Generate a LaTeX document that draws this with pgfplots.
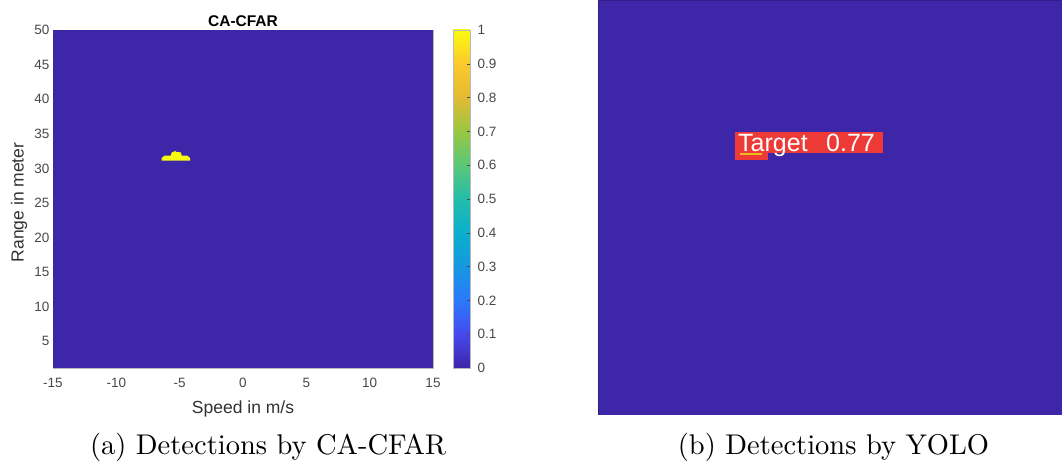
\documentclass[border=0pt]{standalone}
\usepackage{pgfplots}
\pgfplotsset{compat=1.18}
\usepackage{fontspec}
\newfontfamily\arial{Liberation Sans}
\definecolor{pblue}{RGB}{62,38,168}
\definecolor{pyellow}{RGB}{249,251,14}
\definecolor{yred}{RGB}{238,58,54}
\definecolor{ygold}{RGB}{235,190,30}
\definecolor{tickgray}{RGB}{72,72,72}
\definecolor{labgray}{RGB}{50,50,50}
\pgfdeclareverticalshading{parulash}{100bp}{
 rgb(0bp)=(0.243,0.149,0.659);
 rgb(25bp)=(0.243,0.149,0.659);
 rgb(30bp)=(0.278,0.286,0.933);
 rgb(35bp)=(0.176,0.475,0.980);
 rgb(40bp)=(0.078,0.596,0.886);
 rgb(45bp)=(0.039,0.686,0.804);
 rgb(50bp)=(0.137,0.741,0.667);
 rgb(55bp)=(0.353,0.780,0.471);
 rgb(60bp)=(0.600,0.780,0.260);
 rgb(65bp)=(0.890,0.730,0.200);
 rgb(70bp)=(0.988,0.790,0.176);
 rgb(75bp)=(0.976,0.984,0.055);
 rgb(100bp)=(0.976,0.984,0.055)}
\begin{document}
\begin{tikzpicture}[x=1pt,y=1pt]
\pgfkeys{/pgf/number format/assume math mode=true}
\path[use as bounding box] (0,0) rectangle (1062,465);
\begin{axis}[
  at={(53pt,97pt)}, anchor=south west,
  scale only axis, width=380pt, height=338pt,
  xmin=-15, xmax=15, ymin=1.15, ymax=50,
  xtick={-15,-10,-5,0,5,10,15}, ytick={5,10,15,20,25,30,35,40,45,50},
  major tick length=0pt,
  axis line style={gray!55, line width=0.6pt},
  tick label style={font=\fontsize{13.5}{14}\arial, text=tickgray},
  xticklabel style={yshift=-7pt},
  xlabel={Speed in m/s}, ylabel={Range in meter},
  label style={font=\fontsize{17.5}{20}\arial, text=labgray},
  xlabel style={at={(axis description cs:0.5,-0.12)}, anchor=center},
  ylabel style={at={(axis description cs:-0.0895,0.49)}, anchor=center},
  title={CA-CFAR},
  title style={at={(axis description cs:0.5,1)}, anchor=base, yshift=-3pt, inner sep=0pt, font=\bfseries\fontsize{15.5}{17}\arial, text=black},
]
\addplot[fill=pblue, draw=none] coordinates {(-15,1.15) (15,1.15) (15,50) (-15,50)} -- cycle;
\addplot[fill=pyellow, draw=none] coordinates {
 (-6.42,31.11) (-4.18,31.11) (-4.18,31.5) (-4.4,31.84) (-4.84,31.84) (-4.9,32.3)
 (-5.3,32.4) (-5.37,32.56) (-5.45,32.4) (-5.63,32.3) (-5.7,31.84) (-6.2,31.84) (-6.42,31.5)} -- cycle;
\end{axis}
% colour bar
\begin{axis}[
  at={(453pt,97pt)}, anchor=south west,
  scale only axis, width=17pt, height=338pt,
  xmin=0, xmax=1, ymin=0, ymax=1,
  xtick=\empty,
  ytick={0,0.1,0.2,0.3,0.4,0.5,0.6,0.7,0.8,0.9,1},
  yticklabels={0,0.1,0.2,0.3,0.4,0.5,0.6,0.7,0.8,0.9,1},
  yticklabel pos=right, ytick pos=right,
  tick align=inside, major tick length=3pt,
  tick style={tickgray, line width=0.5pt},
  axis line style={gray!55, line width=0.6pt},
  axis on top,
  yticklabel style={font=\fontsize{13.5}{14}\arial, text=tickgray, xshift=4pt},
]
\addplot[shading=parulash, draw=none] coordinates {(0,0) (1,0) (1,1) (0,1)} -- cycle;
\end{axis}
\begin{axis}[
  at={(598pt,50pt)}, anchor=south west,
  scale only axis, width=464pt, height=415pt,
  xmin=0, xmax=464, ymin=0, ymax=415, hide axis,
]
\addplot[fill=pblue, draw=pblue!80!black, line width=0.8pt] coordinates {(0,0) (464,0) (464,415) (0,415)} -- cycle;
\addplot[fill=yred, draw=none] coordinates {(137,262) (285,262) (285,283) (137,283)} -- cycle;
\addplot[fill=yred, draw=none] coordinates {(137,255) (170,255) (170,263) (137,263)} -- cycle;
\addplot[fill=ygold, draw=none] coordinates {(142,259.5) (164,259.5) (164,262) (142,262)} -- cycle;
\node[anchor=base west, inner sep=0pt, text=white, font=\fontsize{25}{27}\arial] at (axis cs:140,263.5) {Target};
\node[anchor=base west, inner sep=0pt, text=white, font=\fontsize{25}{27}\arial] at (axis cs:228,263.5) {0.77};
\end{axis}
\node[anchor=base] at (268,10) {\scalebox{2.85}{(a) Detections by CA-CFAR}};
\node[anchor=base] at (833.5,10) {\scalebox{2.85}{(b) Detections by YOLO}};
\end{tikzpicture}
\end{document}
